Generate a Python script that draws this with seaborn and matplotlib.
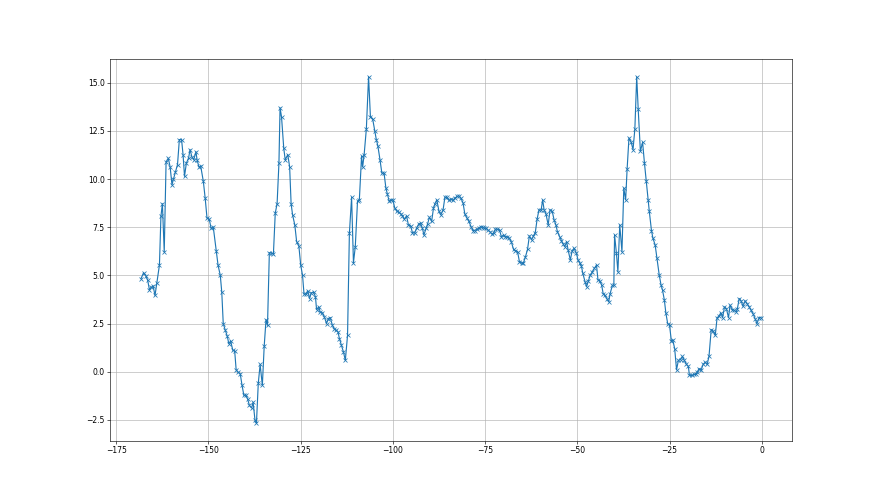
import numpy as np
import pandas as pd
import seaborn as sns
import matplotlib
matplotlib.use("Agg")
import matplotlib.pyplot as plt

#values
x_vals = [-168.3, -167.6, -167.0, -166.5, -166.0, -165.6, -165.0, -164.5, -164.0, -163.3,
          -162.9, -162.5, -162.0, -161.5, -160.9, -160.4, -159.9, -159.5, -159.0, -158.4,
          -157.9, -157.3, -156.9, -156.5, -156.0, -155.4, -155.0, -154.5, -154.0, -153.4,
          -153.1, -152.6, -152.1, -151.4, -150.9, -150.4, -149.8, -149.3, -148.7, -147.9,
          -147.4, -146.8, -146.4, -146.0, -145.5, -144.9, -144.5, -144.0, -143.4, -142.9,
          -142.5, -142.0, -141.4, -140.9, -140.4, -139.9, -139.4, -138.9, -138.3, -137.9,
          -137.4, -137.0, -136.5, -136.0, -135.4, -134.9, -134.4, -134.0, -133.5, -132.9,
          -132.4, -131.9, -131.4, -130.9, -130.6, -130.2, -129.6, -129.2, -128.5, -128.0,
          -127.6, -127.2, -126.6, -126.1, -125.5, -125.0, -124.5, -124.1, -123.6, -123.1,
          -122.6, -122.1, -121.5, -121.0, -120.7, -120.1, -119.7, -119.1, -118.6, -118.0,
          -117.5, -117.0, -116.4, -115.9, -115.3, -114.9, -114.5, -114.0, -113.4, -112.9,
          -112.3, -111.8, -111.2, -110.7, -110.2, -109.6, -109.1, -108.5, -108.2, -107.8,
          -107.2, -106.6, -106.1, -105.5, -104.9, -104.5, -104.1, -103.5, -103.0, -102.4,
          -101.9, -101.5, -101.0, -100.5, -100.0, -99.5, -98.9, -98.4, -97.8, -97.4,
          -96.9, -96.3, -95.8, -95.2, -94.7, -94.1, -93.6, -93.0, -92.5, -92.0,
          -91.6, -91.0, -90.6, -90.1, -89.5, -89.0, -88.6, -88.1, -87.5, -87.0,
          -86.4, -85.9, -85.4, -84.8, -84.3, -83.7, -83.2, -82.6, -82.1, -81.6,
          -81.0, -80.5, -79.9, -79.4, -78.8, -78.3, -77.8, -77.2, -76.7, -76.2,
          -75.7, -75.2, -74.7, -74.3, -73.7, -73.2, -72.7, -72.2, -71.7, -71.1,
          -70.6, -70.0, -69.5, -69.0, -68.4, -67.9, -67.3, -66.8, -66.2, -65.7,
          -65.1, -64.6, -64.1, -63.5, -63.0, -62.4, -61.9, -61.4, -60.9, -60.4,
          -59.8, -59.4, -59.0, -58.5, -57.9, -57.4, -56.8, -56.3, -55.8, -55.4,
          -54.8, -54.3, -53.8, -53.4, -52.9, -52.5, -51.9, -51.4, -50.9, -50.3,
          -49.8, -49.3, -48.9, -48.5, -47.9, -47.5, -47.0, -46.5, -45.9, -45.4,
          -44.8, -44.4, -43.9, -43.4, -43.0, -42.5, -42.0, -41.5, -41.1, -40.5,
          -40.1, -39.9, -39.4, -39.0, -38.5, -37.9, -37.4, -36.9, -36.5, -36.0,
          -35.4, -34.9, -34.4, -33.9, -33.5, -32.9, -32.3, -31.8, -31.3, -30.8,
          -30.5, -29.9, -29.5, -28.9, -28.4, -27.8, -27.3, -26.9, -26.4, -26.0,
          -25.5, -25.0, -24.5, -24.1, -23.6, -23.1, -22.6, -22.0, -21.5, -21.0,
          -20.4, -19.9, -19.6, -19.0, -18.5, -17.9, -17.5, -17.0, -16.4, -15.9,
          -15.3, -14.8, -14.3, -13.7, -13.2, -12.6, -12.1, -11.6, -11.1, -10.6,
          -10.1, -9.6, -9.0, -8.6, -8.0, -7.5, -6.9, -6.6, -6.1, -5.6,
          -5.1, -4.5, -4.0, -3.4, -2.9, -2.3, -1.8, -1.3, -0.7, -0.2]

y_vals = [4.83, 5.14, 4.97, 4.76, 4.24, 4.38, 4.44, 3.96, 4.62, 5.54,
          8.06, 8.72, 6.22, 10.87, 11.08, 10.63, 9.70, 10.00, 10.35, 10.75,
          12.05, 12.05, 11.27, 10.14, 10.83, 11.09, 11.53, 11.15, 11.00, 11.42,
          11.00, 10.63, 10.66, 9.88, 9.01, 7.97, 7.92, 7.45, 7.50, 6.28,
          5.52, 5.00, 4.13, 2.50, 2.19, 1.84, 1.46, 1.60, 1.11, 1.08,
          0.10, -0.02, -0.10, -0.71, -1.23, -1.20, -1.41, -1.75, -1.88, -1.58,
          -2.50, -2.67, -0.59, 0.38, -0.71, 1.32, 2.71, 2.41, 6.18, 6.15,
          6.11, 8.23, 8.72, 10.83, 13.70, 13.23, 11.61, 11.00, 11.27, 10.63,
          8.72, 8.14, 7.62, 6.75, 6.53, 5.54, 5.00, 4.03, 4.03, 4.20,
          3.80, 4.10, 4.13, 3.89, 3.23, 3.37, 3.09, 3.06, 2.85, 2.50,
          2.76, 2.81, 2.41, 2.22, 2.15, 2.07, 1.72, 1.41, 1.02, 0.59,
          1.89, 7.19, 9.05, 5.66, 6.49, 8.84, 8.92, 11.18, 10.63, 11.27,
          12.60, 15.31, 13.23, 13.13, 12.48, 12.05, 11.74, 11.00, 10.31, 10.31,
          9.53, 9.22, 8.84, 8.92, 8.92, 8.49, 8.32, 8.28, 8.19, 8.09,
          7.92, 8.09, 7.62, 7.57, 7.22, 7.19, 7.45, 7.67, 7.71, 7.45,
          7.10, 7.45, 7.67, 8.02, 7.80, 8.49, 8.72, 8.92, 8.32, 8.14,
          8.40, 9.06, 9.06, 8.89, 8.96, 8.89, 9.01, 9.10, 9.13, 9.01,
          8.78, 8.19, 7.97, 7.80, 7.53, 7.33, 7.33, 7.40, 7.45, 7.53,
          7.50, 7.45, 7.45, 7.36, 7.27, 7.15, 7.19, 7.40, 7.40, 7.36,
          7.01, 7.10, 6.98, 7.01, 6.93, 6.75, 6.35, 6.28, 6.23, 5.71,
          5.63, 5.66, 5.94, 6.35, 7.05, 6.84, 7.05, 7.22, 7.92, 8.40,
          8.40, 8.92, 8.40, 8.19, 7.62, 8.40, 8.32, 7.88, 7.62, 7.27,
          7.01, 6.80, 6.63, 6.49, 6.75, 6.32, 5.80, 6.28, 6.41, 6.18,
          5.80, 5.62, 5.49, 5.10, 4.67, 4.41, 4.72, 5.02, 5.19, 5.36,
          5.54, 4.76, 4.72, 4.50, 4.06, 3.96, 3.80, 3.63, 4.06, 4.48,
          4.50, 7.10, 6.15, 5.19, 7.62, 6.23, 9.53, 8.92, 10.52, 12.13,
          11.91, 11.53, 12.60, 15.31, 13.65, 11.44, 11.91, 10.83, 9.88, 8.89,
          8.35, 7.33, 6.93, 6.58, 5.89, 5.03, 4.50, 4.24, 3.72, 3.06,
          2.50, 2.41, 1.60, 1.63, 1.20, 0.10, 0.59, 0.63, 0.80, 0.59,
          0.38, 0.28, -0.19, -0.19, -0.14, -0.14, -0.02, 0.16, 0.10, 0.38,
          0.50, 0.38, 0.80, 2.19, 2.12, 1.89, 2.81, 2.88, 3.06, 2.81,
          3.37, 3.28, 2.81, 3.46, 3.23, 3.19, 3.11, 3.28, 3.80, 3.68,
          3.40, 3.68, 3.54, 3.37, 3.19, 2.99, 2.76, 2.50, 2.81, 2.81]

df = pd.DataFrame({"x": x_vals, "y": y_vals})

fig, ax = plt.subplots(figsize=(16, 9), dpi=55)
sns.lineplot(data=df, x="x", y="y", ax=ax, estimator=None, sort=False,
             color="C0", marker="x", markersize=6, markeredgecolor="C0",
             markeredgewidth=1.0, linewidth=1.5)
ax.grid(True)
ax.set_xlabel("")
ax.set_ylabel("")
plt.savefig("out.png", dpi=55)
